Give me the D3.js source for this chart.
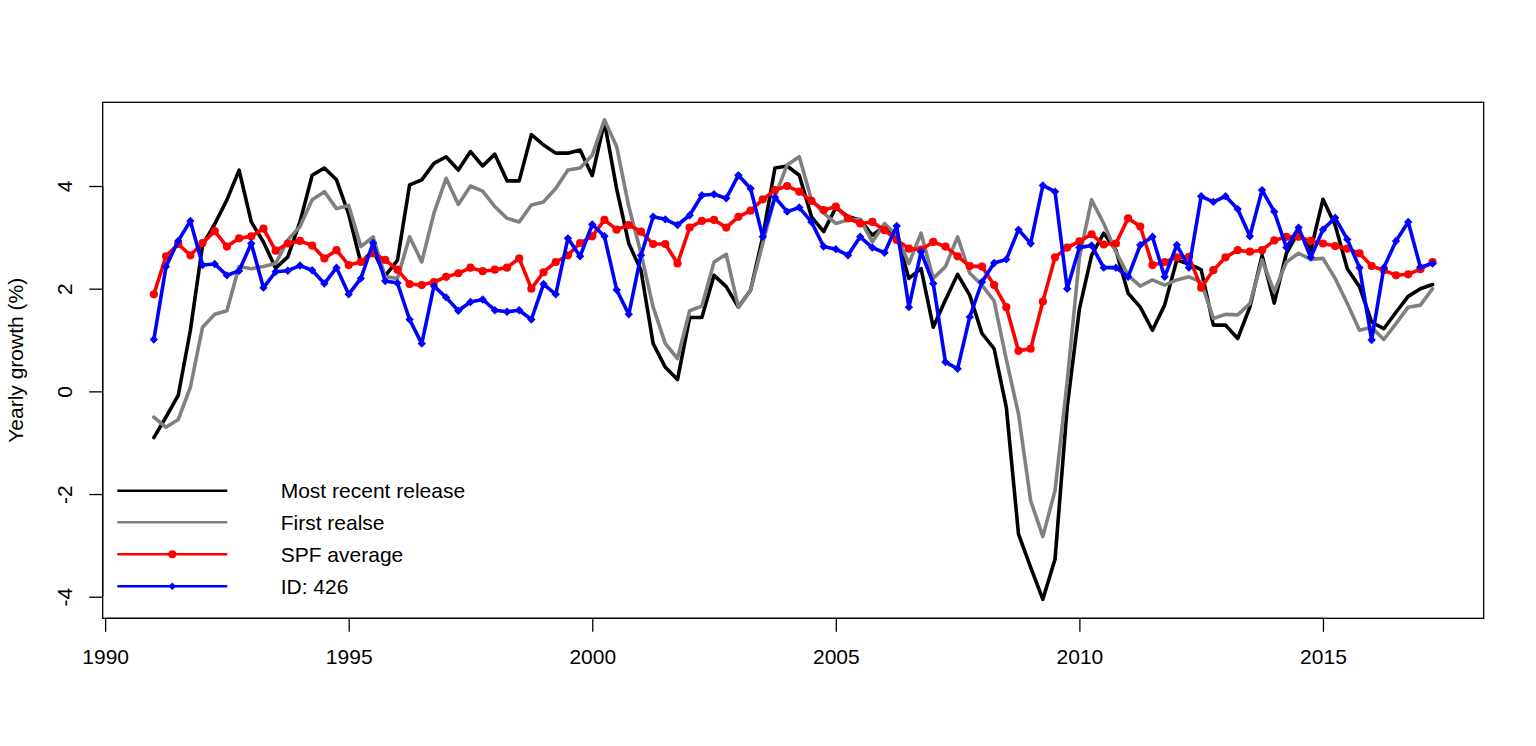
<!DOCTYPE html>
<html>
<head>
<meta charset="utf-8">
<script src="https://cdn.jsdelivr.net/npm/d3@7/dist/d3.min.js"></script>
<style>
  html, body { margin: 0; padding: 0; background: #fff; }
  svg { display: block; font-family: "Liberation Sans", Arial, sans-serif; }
</style>
</head>
<body>
<svg id="chart" width="1536" height="746"></svg>
<script>
// ---- data (quarterly, 1991 Q1 .. 2017 Q2) ----
const startYear = 1991;
const quarterStep = 0.25;

const mostRecent = [
  -0.90, -0.50, -0.08, 1.19, 2.85, 3.26, 3.73, 4.31, 3.30, 2.91,
   2.40, 2.62, 3.30, 4.21, 4.35, 4.12, 3.45, 2.50, 2.75, 2.25,
   2.55, 4.02, 4.12, 4.44, 4.57, 4.31, 4.67, 4.39, 4.62, 4.10,
   4.10, 5.00, 4.80, 4.64, 4.64, 4.70, 4.20, 5.25, 3.95, 2.88,
   2.36, 0.93, 0.47, 0.23, 1.44, 1.44, 2.26, 2.04, 1.64, 1.97,
   3.01, 4.35, 4.39, 4.21, 3.40, 3.11, 3.58, 3.40, 3.34, 3.04,
   3.21, 3.04, 2.20, 2.39, 1.25, 1.78, 2.28, 1.87, 1.13, 0.83,
  -0.31, -2.78, -3.43, -4.05, -3.27, -0.30, 1.60, 2.65, 3.08, 2.75,
   1.91, 1.64, 1.19, 1.68, 2.56, 2.48, 2.37, 1.29, 1.29, 1.03,
   1.64, 2.65, 1.72, 2.69, 3.11, 2.75, 3.74, 3.24, 2.39, 2.04,
   1.35, 1.22, 1.54, 1.85, 2.00, 2.08
];

const firstRelease = [
  -0.50, -0.70, -0.55, 0.08, 1.25, 1.50, 1.57, 2.43, 2.39, 2.43,
   2.49, 2.95, 3.21, 3.73, 3.89, 3.56, 3.62, 2.82, 3.01, 2.23,
   2.20, 3.01, 2.52, 3.47, 4.15, 3.64, 4.00, 3.90, 3.60, 3.37,
   3.30, 3.63, 3.69, 3.95, 4.31, 4.35, 4.60, 5.29, 4.77, 3.60,
   2.69, 1.64, 0.93, 0.64, 1.57, 1.66, 2.52, 2.67, 1.64, 1.97,
   2.88, 3.79, 4.41, 4.57, 3.73, 3.47, 3.27, 3.34, 3.35, 2.91,
   3.27, 3.04, 2.49, 3.08, 2.20, 2.43, 3.01, 2.30, 2.07, 1.76,
   0.62, -0.44, -2.13, -2.83, -1.93, 0.20, 2.60, 3.73, 3.27, 2.72,
   2.26, 2.05, 2.17, 2.07, 2.17, 2.23, 2.13, 1.42, 1.50, 1.49,
   1.71, 2.56, 1.94, 2.52, 2.69, 2.57, 2.59, 2.20, 1.71, 1.19,
   1.25, 1.01, 1.32, 1.64, 1.68, 2.00
];

const spfAverage = [
   1.89, 2.63, 2.87, 2.65, 2.89, 3.12, 2.82, 2.98, 3.02, 3.17,
   2.74, 2.88, 2.93, 2.84, 2.59, 2.75, 2.46, 2.52, 2.69, 2.56,
   2.37, 2.09, 2.07, 2.13, 2.23, 2.30, 2.41, 2.34, 2.37, 2.41,
   2.59, 2.00, 2.32, 2.52, 2.65, 2.89, 3.02, 3.34, 3.15, 3.24,
   3.11, 2.87, 2.87, 2.49, 3.19, 3.32, 3.34, 3.19, 3.40, 3.52,
   3.74, 3.92, 4.00, 3.89, 3.71, 3.53, 3.60, 3.37, 3.27, 3.30,
   3.14, 2.95, 2.78, 2.76, 2.91, 2.82, 2.63, 2.44, 2.43, 2.07,
   1.64, 0.79, 0.83, 1.75, 2.61, 2.80, 2.92, 3.06, 2.86, 2.88,
   3.37, 3.21, 2.46, 2.52, 2.61, 2.62, 2.02, 2.36, 2.61, 2.75,
   2.72, 2.75, 2.94, 3.01, 3.01, 2.93, 2.88, 2.83, 2.78, 2.69,
   2.44, 2.36, 2.26, 2.28, 2.38, 2.52
];

const id426 = [
   1.01, 2.43, 2.93, 3.32, 2.46, 2.48, 2.26, 2.35, 2.88, 2.02,
   2.33, 2.35, 2.45, 2.36, 2.10, 2.41, 1.89, 2.20, 2.89, 2.15,
   2.11, 1.40, 0.93, 2.05, 1.83, 1.57, 1.74, 1.79, 1.58, 1.55,
   1.58, 1.40, 2.09, 1.89, 2.98, 2.63, 3.25, 3.02, 1.98, 1.50,
   2.65, 3.40, 3.35, 3.24, 3.43, 3.82, 3.84, 3.76, 4.21, 3.95,
   3.01, 3.78, 3.50, 3.58, 3.30, 2.82, 2.77, 2.65, 3.01, 2.80,
   2.70, 3.22, 1.64, 2.72, 2.10, 0.57, 0.44, 1.45, 2.13, 2.50,
   2.57, 3.15, 2.88, 4.01, 3.89, 2.00, 2.80, 2.84, 2.41, 2.41,
   2.23, 2.85, 3.01, 2.23, 2.85, 2.41, 3.80, 3.69, 3.80, 3.55,
   3.02, 3.92, 3.50, 2.80, 3.19, 2.61, 3.15, 3.38, 2.96, 2.41,
   1.00, 2.41, 2.93, 3.30, 2.42, 2.49
];

const xTicks = [1990, 1995, 2000, 2005, 2010, 2015];
const yTicks = [-4, -2, 0, 2, 4];
const seriesNames = ["Most recent release", "First realse", "SPF average", "ID: 426"];
const yLabel = "Yearly growth (%)";

// ---- layout ----
const svg = d3.select("#chart");
const plot = { left: 102.7, right: 1483.7, top: 102.3, bottom: 618.3 };
const fontSize = 21;

const dates = mostRecent.map((_, i) => startYear + i * quarterStep);

const x = d3.scaleLinear().domain([1989.95, 2018.3]).range([plot.left, plot.right]);
const y = d3.scaleLinear().domain([-4.42, 5.63]).range([plot.bottom, plot.top]);

const series = [
  { name: seriesNames[0], values: mostRecent, color: "#000000", marker: null },
  { name: seriesNames[1], values: firstRelease, color: "#808080", marker: null },
  { name: seriesNames[2], values: spfAverage, color: "#FF0000", marker: "circle" },
  { name: seriesNames[3], values: id426, color: "#0000FF", marker: "diamond" }
];

const line = d3.line().x((d, i) => x(dates[i])).y(d => y(d));

const gLines = svg.append("g");
series.forEach(s => {
  gLines.append("path")
    .attr("d", line(s.values))
    .attr("fill", "none")
    .attr("stroke", s.color)
    .attr("stroke-width", 3.6)
    .attr("stroke-linejoin", "round")
    .attr("stroke-linecap", "round");
  if (s.marker === "circle") {
    gLines.selectAll(null).data(s.values).enter().append("circle")
      .attr("cx", (d, i) => x(dates[i]))
      .attr("cy", d => y(d))
      .attr("r", 4.1)
      .attr("fill", s.color);
  } else if (s.marker === "diamond") {
    const r = 4.2;
    gLines.selectAll(null).data(s.values).enter().append("path")
      .attr("d", `M0,${-r}L${r},0L0,${r}L${-r},0Z`)
      .attr("transform", (d, i) => `translate(${x(dates[i])},${y(d)})`)
      .attr("fill", s.color);
  }
});

// ---- box ----
svg.append("rect")
  .attr("x", plot.left).attr("y", plot.top)
  .attr("width", plot.right - plot.left).attr("height", plot.bottom - plot.top)
  .attr("fill", "none").attr("stroke", "#000").attr("stroke-width", 1.3);

// ---- x axis ----
const xAxis = d3.axisBottom(x).tickValues(xTicks).tickFormat(d3.format("d")).tickSize(13.5).tickPadding(0);
const gx = svg.append("g").attr("transform", `translate(0,${plot.bottom})`).call(xAxis);
gx.select(".domain").attr("d", `M${x(xTicks[0])},0H${x(xTicks[xTicks.length - 1])}`).attr("stroke-width", 1.3);
gx.selectAll(".tick line").attr("stroke-width", 1.3);
gx.selectAll(".tick text")
  .attr("font-size", fontSize).attr("font-family", "Liberation Sans, Arial, sans-serif")
  .attr("fill", "#000").attr("dy", null).attr("y", 46);

// ---- y axis ----
const yAxis = d3.axisLeft(y).tickValues(yTicks).tickFormat(d => d).tickSize(13.5).tickPadding(0);
const gy = svg.append("g").attr("transform", `translate(${plot.left},0)`).call(yAxis);
gy.select(".domain").attr("d", `M0,${y(yTicks[0])}V${y(yTicks[yTicks.length - 1])}`).attr("stroke-width", 1.3);
gy.selectAll(".tick line").attr("stroke-width", 1.3);
gy.selectAll(".tick text")
  .attr("font-size", fontSize).attr("font-family", "Liberation Sans, Arial, sans-serif")
  .attr("fill", "#000")
  .attr("x", null).attr("dy", null)
  .attr("text-anchor", "middle")
  .attr("transform", "translate(-38.5,0) rotate(-90) translate(0,7.5)");

// ---- y label ----
svg.append("text")
  .attr("transform", `translate(23,${(plot.top + plot.bottom) / 2}) rotate(-90)`)
  .attr("text-anchor", "middle")
  .attr("font-size", fontSize)
  .attr("fill", "#000")
  .text(yLabel);

// ---- legend ----
const legendY = [490.7, 522.3, 554.3, 586.3];
const gLeg = svg.append("g");
series.forEach((s, k) => {
  const ly = legendY[k];
  gLeg.append("line")
    .attr("x1", 117.3).attr("x2", 227.3).attr("y1", ly).attr("y2", ly)
    .attr("stroke", s.color).attr("stroke-width", 2.6);
  if (s.marker === "circle") {
    gLeg.append("circle").attr("cx", 172.3).attr("cy", ly).attr("r", 4).attr("fill", s.color);
  } else if (s.marker === "diamond") {
    const r = 3.8;
    gLeg.append("path").attr("d", `M0,${-r}L${r},0L0,${r}L${-r},0Z`)
      .attr("transform", `translate(172.3,${ly})`).attr("fill", s.color);
  }
  gLeg.append("text")
    .attr("x", 280.7).attr("y", ly + 7.5)
    .attr("font-size", fontSize).attr("fill", "#000")
    .text(s.name);
});
</script>
</body>
</html>
